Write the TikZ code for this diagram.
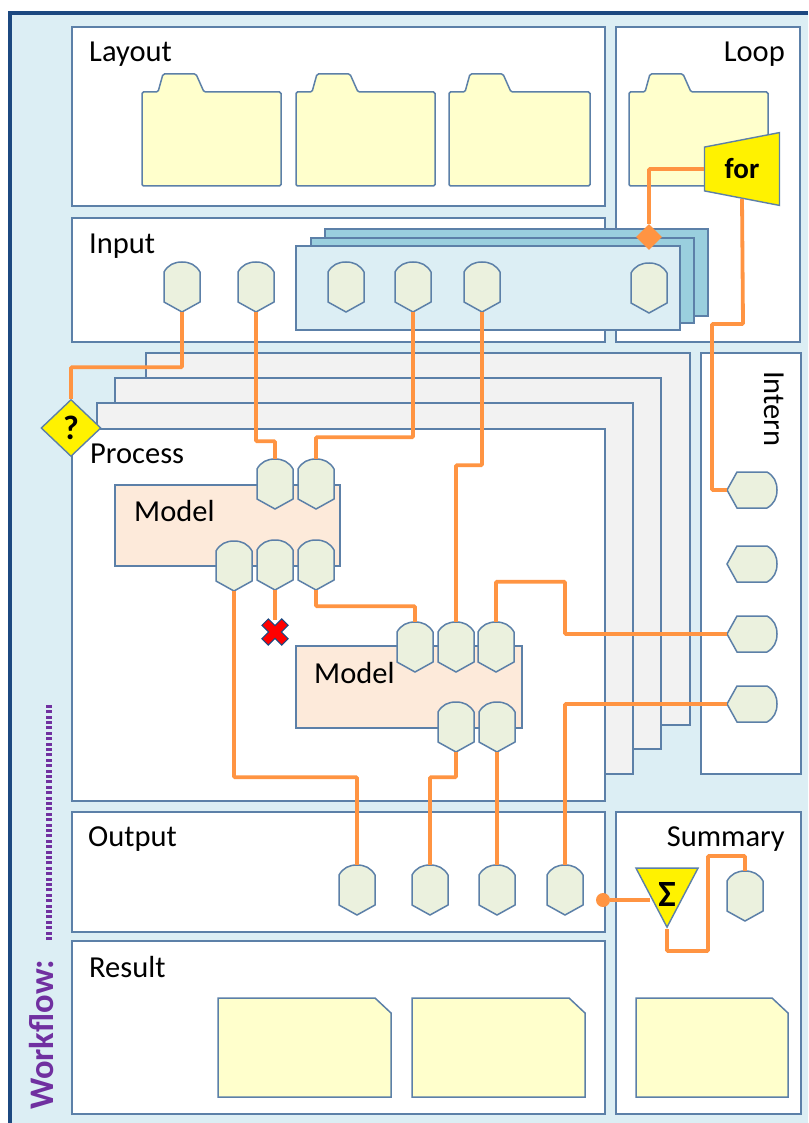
\documentclass[tikz,border=0pt]{standalone}
\usepackage{fontspec}
\setmainfont{Carlito}
\usetikzlibrary{shapes.geometric,calc}
\definecolor{PanelLine}{RGB}{92,128,168}
\definecolor{FrameBlue}{RGB}{28,72,128}
\definecolor{PageBlue}{RGB}{220,238,244}
\definecolor{StackBlue}{RGB}{154,207,222}
\definecolor{NoteYellow}{RGB}{255,255,204}
\definecolor{PortGreen}{RGB}{235,241,222}
\definecolor{ModelPeach}{RGB}{253,234,218}
\definecolor{WireOrange}{RGB}{255,148,66}
\definecolor{LayerGray}{RGB}{242,242,242}
\definecolor{FlowPurple}{RGB}{112,48,160}
\tikzset{
  panel/.style={draw=PanelLine,fill=white,line width=1.8pt},
  layer/.style={draw=PanelLine,fill=LayerGray,line width=1.8pt},
  stackbox/.style={draw=PanelLine,fill=StackBlue,line width=1.8pt},
  modelbox/.style={draw=PanelLine,fill=ModelPeach,line width=1.5pt},
  sheet/.style={draw=PanelLine,fill=NoteYellow,line width=1.5pt},
  lbl/.style={anchor=west,inner sep=0pt,font=\fontsize{30.5}{32}\selectfont},
  portline/.style={draw=PanelLine,fill=PortGreen,line width=1.5pt},
  vport/.style={minimum width=36pt,minimum height=50pt,inner sep=0pt},
  hport/.style={minimum width=50pt,minimum height=36pt,inner sep=0pt},
  wire/.style={draw=WireOrange,line width=3.8pt,rounded corners=1pt},
  gate/.style={draw=PanelLine,fill=yellow,line width=1.4pt,inner sep=0pt,
               font=\bfseries\fontsize{29}{31}\selectfont},
}
% port with its tip at the bottom
\newcommand{\portdown}[3]{
  \node[vport] (#1) at (#2,#3) {};
  \draw[portline] ([shift={(-18,-15)}]#1.center)
    .. controls ([shift={(-14,-22)}]#1.center) and ([shift={(-8,-25)}]#1.center) .. ([shift={(0,-25)}]#1.center)
    .. controls ([shift={(8,-25)}]#1.center) and ([shift={(14,-22)}]#1.center) .. ([shift={(18,-15)}]#1.center)
    -- ([shift={(18,15)}]#1.center) -- ([shift={(0,25)}]#1.center) -- ([shift={(-18,15)}]#1.center) -- cycle;
}
% port with its tip on the left
\newcommand{\portleft}[3]{
  \node[hport] (#1) at (#2,#3) {};
  \draw[portline] ([shift={(15,-18)}]#1.center)
    .. controls ([shift={(22,-14)}]#1.center) and ([shift={(25,-8)}]#1.center) .. ([shift={(25,0)}]#1.center)
    .. controls ([shift={(25,8)}]#1.center) and ([shift={(22,14)}]#1.center) .. ([shift={(15,18)}]#1.center)
    -- ([shift={(-15,18)}]#1.center) -- ([shift={(-25,0)}]#1.center) -- ([shift={(-15,-18)}]#1.center) -- cycle;
}
\begin{document}
\begin{tikzpicture}[x=1pt,y=-1pt]
  \useasboundingbox (0,0) rectangle (808,1123);
  \fill[PageBlue] (10,13) rectangle (808,1123);
  \draw[FrameBlue,line width=3.6pt] (10,1123) -- (10,13) -- (808,13);

  % panels
  \draw[panel] (72,27) rectangle (605,206);
  \draw[panel] (616,27) rectangle (800,342);
  \draw[panel] (72,218) rectangle (605,342);
  \draw[layer] (146,353) rectangle (690,725);
  \draw[layer] (115,378) rectangle (661,749);
  \draw[layer] (97,403) rectangle (633,774);
  \draw[panel] (72,429) rectangle (605,801);
  \draw[panel] (701,353) rectangle (801,774);
  \draw[panel] (72,812) rectangle (605,932);
  \draw[panel] (72,941) rectangle (605,1114);
  \draw[panel] (616,812) rectangle (801,1114);

  \node[lbl] (layoutlbl) at (89,54) {Layout};
  \node[lbl,anchor=east] (looplbl) at (785,54) {Loop};
  \node[lbl] (inputlbl) at (89,246) {Input};
  \node[lbl] (processlbl) at (90,454) {Process};
  \node[lbl,rotate=-90] (internlbl) at (774,371) {Intern};
  \node[lbl] (outputlbl) at (88,839) {Output};
  \node[lbl] (resultlbl) at (89,967) {Result};
  \node[lbl,anchor=east] (summarylbl) at (785,839) {Summary};

  % folders and sheets
  \foreach \x/\w in {142/139,296/139,449/141,629/139}
    \draw[sheet,rounded corners=1.5pt] (\x,186) -- (\x,92) -- ++(16,0) -- ++(5,-18) -- ++(33,0) -- ++(8,18)
      -- (\x+\w,92) -- (\x+\w,186) -- cycle;
  \foreach \x/\w in {218/173,412/173,636/152}
    \draw[sheet] (\x,1097) -- (\x,998) -- (\x+\w-16,998) -- (\x+\w,1013) -- (\x+\w,1097) -- cycle;

  % input stack
  \draw[stackbox] (325,229) rectangle (708,316);
  \draw[stackbox] (311,238) rectangle (694,323);
  \draw[stackbox,fill=PageBlue] (296,246) rectangle (680,330);

  % models
  \draw[modelbox] (115,485) rectangle (340,566);
  \draw[modelbox] (296,646) rectangle (522,728);
  \node[lbl] (modelone) at (134,511) {Model};
  \node[lbl] (modeltwo) at (314,673) {Model};

  \portdown{inA}{182}{287}
  \portdown{inB}{256}{287}
  \portdown{inC}{346}{287}
  \portdown{inD}{413}{287}
  \portdown{inE}{482}{287}
  \portdown{inF}{649}{288}
  \portdown{mAinA}{275}{484}
  \portdown{mAinB}{316}{484}
  \portdown{mAoutA}{234}{566}
  \portdown{mAoutB}{275}{565}
  \portdown{mAoutC}{316}{565}
  \portdown{mBinA}{415}{647}
  \portdown{mBinB}{456}{647}
  \portdown{mBinC}{496}{647}
  \portdown{mBoutA}{456}{727}
  \portdown{mBoutB}{497}{727}
  \portdown{outA}{357}{890}
  \portdown{outB}{430}{890}
  \portdown{outC}{497}{890}
  \portdown{outD}{565}{890}
  \portdown{sumout}{745}{896}
  \portleft{intA}{752}{490}
  \portleft{intB}{752}{564}
  \portleft{intC}{752}{634}
  \portleft{intD}{752}{704}

  % gates
  \node[gate,diamond,minimum width=60pt,minimum height=57pt,font=\bfseries\fontsize{34}{36}\selectfont] (ifgate) at (71,428) {?};
  \node[gate,trapezium,trapezium stretches=true,shape border rotate=90,
        trapezium left angle=79,trapezium right angle=79,
        minimum width=73pt,minimum height=75pt] (forgate) at (742,169) {for};
  \node[gate,isosceles triangle,isosceles triangle stretches=true,shape border rotate=-90,
        minimum width=62pt,minimum height=59pt,anchor=apex] (sumgate) at (667,929) {};
  \node[font=\bfseries\fontsize{37}{39}\selectfont,inner sep=0pt] (sumsign) at (667,894) {Σ};
  \draw[draw=FrameBlue,fill=red,line width=1pt,rotate around={45:(275,632)}]
    (270.5,618) -- (279.5,618) -- (279.5,627.5) -- (289,627.5) -- (289,636.5) -- (279.5,636.5)
    -- (279.5,646) -- (270.5,646) -- (270.5,636.5) -- (261,636.5) -- (261,627.5) -- (270.5,627.5) -- cycle;
  \coordinate (stopmark) at (275,620);
  \coordinate (sumin) at (650,900);
  \node[circle,fill=WireOrange,minimum size=14pt,inner sep=0pt] (sumdot) at (603,900) {};
  \node[diamond,fill=WireOrange,minimum size=26pt,inner sep=0pt] (stackdot) at (649,237) {};

  % wires
  \draw[wire] (inA.south) -- ++(0,55) -| (ifgate.north);
  \draw[wire] (inB.south) -- ++(0,129) -| (mAinA.north);
  \draw[wire] (inD.south) -- ++(0,125) -| (mAinB.north);
  \draw[wire] (inE.south) -- ++(0,153) -| (mBinB.north);
  \draw[wire] (mAoutA.south) -- ++(0,186) -| (outA.north);
  \draw[wire] (mAoutB.south) -- (stopmark);
  \draw[wire] (mAoutC.south) -- ++(0,16) -| (mBinA.north);
  \draw[wire] (mBinC.north) -- ++(0,-40) -- ++(69,0) |- (intC.west);
  \draw[wire] (mBoutA.south) -- ++(0,25) -| (outB.north);
  \draw[wire] (mBoutB.south) -- (outC.north);
  \draw[wire] (intD.west) -| (outD.north);
  \draw[wire] (forgate.west) -| (stackdot);
  \draw[wire] (forgate.south) -- (743,324) -- (712,324) |- (intA.west);
  \draw[wire] (sumdot) -- (sumin);
  \draw[wire] (sumgate.apex) -- ++(0,22) -- ++(41,0) -- ++(0,-95) -| (sumout.north);

  \node[font=\bfseries\fontsize{34.5}{36}\selectfont,text=FlowPurple,rotate=90,anchor=west,inner sep=0pt]
    (flowlbl) at (42,1110) {Workflow:};
  \coordinate (flowa) at (49,940);
  \coordinate (flowb) at (49,704);
  \draw[FlowPurple,line width=5.5pt,dash pattern=on 3pt off 2.4pt] (flowa) -- (flowb);
\end{tikzpicture}
\end{document}
